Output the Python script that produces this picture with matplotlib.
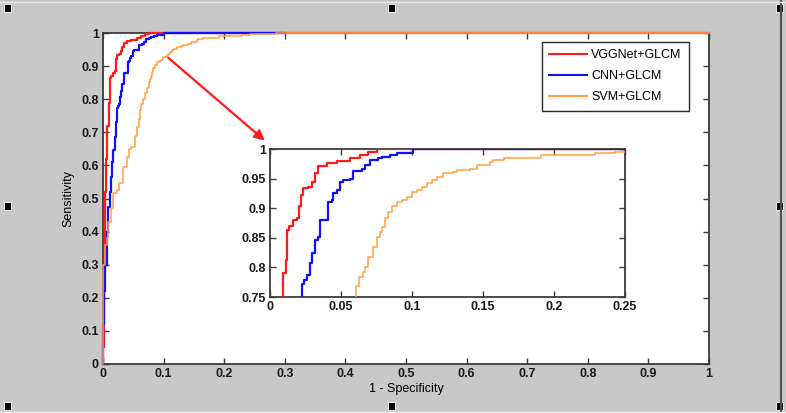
import matplotlib
matplotlib.use("Agg")
import matplotlib.pyplot as plt
from matplotlib.patches import Rectangle
from matplotlib.lines import Line2D

plt.rcParams['font.family'] = ['Liberation Sans', 'DejaVu Sans']

# ---------------- data (staircase ROC corners: fpr, tpr at top of each rise) ----
series_names = ["VGGNet+GLCM", "CNN+GLCM", "SVM+GLCM"]

vgg_fpr = [0, 0.0, 0.001, 0.002, 0.003, 0.004, 0.005, 0.007, 0.0094, 0.0113, 0.0122,
           0.0136, 0.0164, 0.0190, 0.0207, 0.0216, 0.0230, 0.0270, 0.0293, 0.0317,
           0.0340, 0.0399, 0.0469, 0.0563, 0.0634, 0.0692, 0.0751, 1.0]
vgg_tpr = [0, 0.05, 0.15, 0.28, 0.40, 0.52, 0.62, 0.72, 0.790, 0.813, 0.863,
           0.870, 0.880, 0.884, 0.903, 0.922, 0.934, 0.936, 0.945, 0.959,
           0.971, 0.976, 0.980, 0.984, 0.990, 0.9955, 1.0, 1.0]

cnn_fpr = [0, 0.0, 0.002, 0.003, 0.006, 0.007, 0.009, 0.011, 0.0127, 0.015, 0.017,
           0.0198, 0.0215, 0.0228, 0.0242, 0.0263, 0.0282, 0.0293, 0.0317, 0.0340,
           0.0352, 0.0399, 0.0411, 0.0434, 0.0446, 0.0469, 0.0493, 0.0516, 0.0563,
           0.0587, 0.0646, 0.0669, 0.0704, 0.0763, 0.0786, 0.0845, 0.0892, 0.0986,
           0.1009, 0.30]
cnn_tpr = [0, 0.12, 0.22, 0.30, 0.34, 0.40, 0.475, 0.52, 0.566, 0.61, 0.647,
           0.687, 0.73, 0.772, 0.779, 0.787, 0.807, 0.824, 0.846, 0.852,
           0.880, 0.880, 0.911, 0.914, 0.925, 0.931, 0.945, 0.948, 0.950,
           0.963, 0.967, 0.973, 0.981, 0.984, 0.987, 0.990, 0.9925, 0.9925,
           1.0, 1.0]

svm_fpr = [0, 0.0, 0.0033, 0.0061, 0.0088, 0.0127, 0.017, 0.0226, 0.027, 0.0336,
           0.039, 0.0435, 0.047, 0.052, 0.056, 0.0590, 0.0606, 0.0625, 0.0657,
           0.0668, 0.0692, 0.0727, 0.0751, 0.0775, 0.0786, 0.0810, 0.0833, 0.0857,
           0.0892, 0.0927, 0.0962, 0.0998, 0.1033, 0.1068, 0.1103, 0.1138, 0.1174,
           0.1221, 0.1291, 0.1315, 0.141, 0.146, 0.155, 0.157, 0.165, 0.191, 0.229,
           0.243, 0.285, 1.0]
svm_tpr = [0, 0.30, 0.36, 0.38, 0.43, 0.47, 0.516, 0.526, 0.546, 0.596,
           0.626, 0.650, 0.657, 0.69, 0.717, 0.74, 0.768, 0.784, 0.793,
           0.801, 0.818, 0.835, 0.852, 0.860, 0.869, 0.883, 0.894, 0.903,
           0.911, 0.914, 0.919, 0.928, 0.931, 0.936, 0.942, 0.948, 0.953,
           0.959, 0.961, 0.965, 0.967, 0.973, 0.978, 0.981, 0.984, 0.990, 0.993,
           0.9955, 1.0, 1.0]

main_ticks = [0, 0.1, 0.2, 0.3, 0.4, 0.5, 0.6, 0.7, 0.8, 0.9, 1]
main_ticklabels = ["0", "0.1", "0.2", "0.3", "0.4", "0.5", "0.6", "0.7", "0.8", "0.9", "1"]
inset_xticks = [0, 0.05, 0.1, 0.15, 0.2, 0.25]
inset_xticklabels = ["0", "0.05", "0.1", "0.15", "0.2", "0.25"]
inset_yticks = [0.75, 0.8, 0.85, 0.9, 0.95, 1]
inset_yticklabels = ["0.75", "0.8", "0.85", "0.9", "0.95", "1"]

colors = ["#FF1A1A", "#1010FF", "#FFA040"]
widths = [1.6, 1.6, 1.1]

W, H = 786, 413
fig = plt.figure(figsize=(W / 100, H / 100), dpi=100)
fig.patch.set_facecolor("#C8C8C8")

def fx(px):
    return px / W

def fy(py):
    return 1 - py / H

spine_col = "#3A3A3A"
FS = 9

def style_axes(ax):
    for s in ax.spines.values():
        s.set_color(spine_col)
        s.set_linewidth(1.3)
    ax.tick_params(direction="in", length=4, width=1.0, color=spine_col,
                   top=True, right=True, labelsize=FS, pad=3)
    for lab in ax.get_xticklabels() + ax.get_yticklabels():
        lab.set_fontweight("bold")
        lab.set_color("#1A1A1A")

# ---------------- main axes ----------------
ax = fig.add_axes([fx(103), fy(364), fx(709) - fx(103), fy(33) - fy(364)])
ax.set_facecolor("white")
data = [(vgg_fpr, vgg_tpr), (cnn_fpr, cnn_tpr), (svm_fpr, svm_tpr)]
for (x, y), c, lw, name in zip(data, colors, widths, series_names):
    ax.plot(x, y, drawstyle="steps-post", color=c, lw=lw, label=name,
            zorder=3, clip_on=False)
ax.set_xlim(0, 1)
ax.set_ylim(0, 1)
ax.set_xticks(main_ticks)
ax.set_xticklabels(main_ticklabels)
ax.set_yticks(main_ticks)
ax.set_yticklabels(main_ticklabels)
style_axes(ax)
ax.set_xlabel("1 - Specificity", fontsize=FS, labelpad=2)
ax.set_ylabel("Sensitivity", fontsize=FS, labelpad=5)

leg = ax.legend(loc="upper right", bbox_to_anchor=((689 - 103) / 606, (364 - 42) / 331),
                fontsize=FS, frameon=True, fancybox=False, framealpha=1,
                edgecolor="#2A2A2A", handlelength=3.0, handletextpad=0.35,
                labelspacing=0.7, borderpad=0.6, borderaxespad=0)
leg.get_frame().set_linewidth(1.0)
for h in leg.get_lines():
    h.set_linewidth(1.5)

# arrow
ax.annotate("", xy=(0.267, 0.675), xytext=(0.1078, 0.925),
            arrowprops=dict(arrowstyle="-|>", color="#FF1A1A", lw=1.6,
                            mutation_scale=15, shrinkA=0, shrinkB=0), zorder=4)

# ---------------- inset axes ----------------
ins = fig.add_axes([fx(270), fy(297), fx(625) - fx(270), fy(149) - fy(297)])
ins.set_facecolor("white")
for (x, y), c, lw in zip(data, colors, widths):
    ins.plot(x, y, drawstyle="steps-post", color=c, lw=lw, zorder=3)
ins.set_xlim(0, 0.25)
ins.set_ylim(0.75, 1)
ins.set_xticks(inset_xticks)
ins.set_xticklabels(inset_xticklabels)
ins.set_yticks(inset_yticks)
ins.set_yticklabels(inset_yticklabels)
style_axes(ins)
ins.set_zorder(5)

# ---------------- window decorations ----------------
fig.add_artist(Line2D([fx(781), fx(781)], [0, 1], color="#505050", lw=1.5,
                      transform=fig.transFigure))
fig.add_artist(Line2D([0, 1], [fy(1.5), fy(1.5)], color="#E6E6E6", lw=1.0,
                      transform=fig.transFigure))
fig.add_artist(Line2D([0, 1], [fy(411.5), fy(411.5)], color="#F0F0F0", lw=1.0,
                      transform=fig.transFigure))
for cx in (7, 391, 779):
    for cy in (8, 206, 406):
        if cx == 391 and cy == 206:
            continue
        fig.add_artist(Rectangle((fx(cx - 3.5), fy(cy + 4)), fx(7), 8 / H,
                                 facecolor="black", edgecolor="white", lw=0.6,
                                 transform=fig.transFigure))

fig.savefig("out.png", dpi=100, facecolor=fig.get_facecolor())
